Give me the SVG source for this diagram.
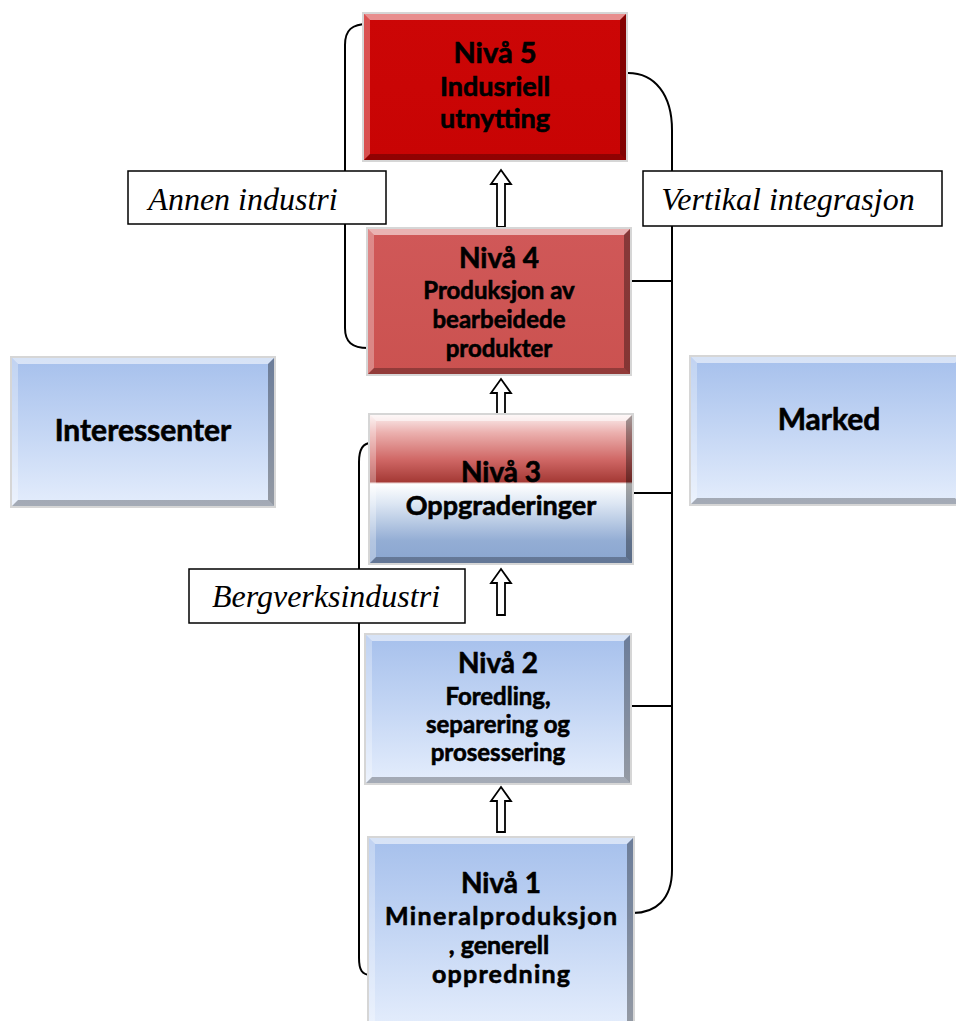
<svg xmlns="http://www.w3.org/2000/svg" width="956" height="1021" viewBox="0 0 956 1021">
  <style>
    .lbl { font-family: Lato, "Open Sans", "Liberation Sans", sans-serif; font-weight: bold; fill: #000; stroke: #000; stroke-width: 0.6; text-anchor: middle; }
    .tag { font-family: "Liberation Serif", "Times New Roman", serif; font-style: italic; font-size: 32px; fill: #000; text-anchor: middle; }
    .tagbox { fill: #fff; stroke: #000; stroke-width: 1.5; }
    .edge { fill: #D6D6D6; }
    .bt { fill: #fff; fill-opacity: 0.55; }
    .bl { fill: #fff; fill-opacity: 0.3; }
    .br { fill: #000; fill-opacity: 0.35; }
    .bb { fill: #000; fill-opacity: 0.28; }
    .conn { fill: none; stroke: #000; stroke-width: 2; }
    .uparrow { fill: #fff; stroke: #000; stroke-width: 1.8; stroke-linejoin: miter; }
  </style>
  <defs>
    <linearGradient id="gBlue" x1="0" y1="0" x2="0" y2="1">
      <stop offset="0" stop-color="#A6C0EC"/>
      <stop offset="0.5" stop-color="#C4D6F4"/>
      <stop offset="1" stop-color="#E4EDFC"/>
    </linearGradient>
    <linearGradient id="gRed5" x1="0" y1="0" x2="0" y2="1">
      <stop offset="0" stop-color="#CC0606"/>
      <stop offset="1" stop-color="#C80404"/>
    </linearGradient>
    <linearGradient id="gRed4" x1="0" y1="0" x2="0" y2="1">
      <stop offset="0" stop-color="#D05858"/>
      <stop offset="1" stop-color="#CB5250"/>
    </linearGradient>
    <linearGradient id="gMix" x1="0" y1="0" x2="0" y2="1">
      <stop offset="0" stop-color="#FBEDED"/>
      <stop offset="0.12" stop-color="#EBB0AE"/>
      <stop offset="0.3" stop-color="#D06866"/>
      <stop offset="0.45" stop-color="#A53A36"/>
      <stop offset="0.465" stop-color="#FFFFFF"/>
      <stop offset="0.6" stop-color="#DCE6F3"/>
      <stop offset="0.85" stop-color="#93ADD4"/>
      <stop offset="1" stop-color="#8AA5D0"/>
    </linearGradient>
  </defs>

  <!-- connectors: brackets and side links -->
  <g id="connectors">
    <path class="conn" d="M368,24 C352,24 345,30 345,45 L345,328 C345,342 352,348 368,348"/>
    <path class="conn" d="M371,443 C362,443 359,450 359,462 L359,958 C359,970 362,975 371,975"/>
    <path class="conn" d="M628,73 C655,73 672,95 672,130 L672,870 C672,900 655,913 633,913"/>
    <path class="conn" d="M630,281 H672"/>
    <path class="conn" d="M632,493 H672"/>
    <path class="conn" d="M630,706 H672"/>
    <!-- hollow upward arrows between levels -->
    <path class="uparrow" d="M497,227 V184 H491 L501,170 L511,184 H505 V227 Z"/>
    <path class="uparrow" d="M497,425 V393 H491 L501,379 L511,393 H505 V425 Z"/>
    <path class="uparrow" d="M497,615 V583 H491 L501,569 L511,583 H505 V615 Z"/>
    <path class="uparrow" d="M497,832 V801 H491 L501,787 L511,801 H505 V832 Z"/>
  </g>

  <!-- Nivå 5 -->
  <g id="niva5">
    <rect class="edge" x="362" y="12" width="266" height="150"/>
    <rect x="364" y="14" width="262" height="146" fill="url(#gRed5)"/>
    <polygon class="bt" points="364,14 626,14 620,20 370,20"/>
    <polygon class="bl" points="364,14 370,20 370,154 364,160"/>
    <polygon class="br" points="626,14 626,160 620,154 620,20"/>
    <polygon class="bb" points="364,160 626,160 620,154 370,154"/>
    <text class="lbl" x="495" y="63" font-size="29">Nivå 5</text>
    <text class="lbl" x="495" y="96" font-size="27">Indusriell</text>
    <text class="lbl" x="495" y="128" font-size="27">utnytting</text>
  </g>

  <!-- Nivå 4 -->
  <g id="niva4">
    <rect class="edge" x="366" y="227" width="266" height="149"/>
    <rect x="368" y="229" width="262" height="145" fill="url(#gRed4)"/>
    <polygon class="bt" points="368,229 630,229 624,235 374,235"/>
    <polygon class="bl" points="368,229 374,235 374,368 368,374"/>
    <polygon class="br" points="630,229 630,374 624,368 624,235"/>
    <polygon class="bb" points="368,374 630,374 624,368 374,368"/>
    <text class="lbl" x="499" y="268" font-size="28">Nivå 4</text>
    <text class="lbl" x="499" y="299" font-size="24">Produksjon av</text>
    <text class="lbl" x="499" y="328" font-size="24">bearbeidede</text>
    <text class="lbl" x="499" y="357" font-size="24">produkter</text>
  </g>

  <!-- Nivå 3 -->
  <g id="niva3">
    <rect class="edge" x="368" y="413" width="266" height="152"/>
    <rect x="370" y="415" width="262" height="148" fill="url(#gMix)"/>
    <polygon class="bt" points="370,415 632,415 626,421 376,421"/>
    <polygon class="bl" points="370,415 376,421 376,557 370,563"/>
    <polygon class="br" points="632,415 632,563 626,557 626,421"/>
    <polygon class="bb" points="370,563 632,563 626,557 376,557"/>
    <text class="lbl" x="501" y="482" font-size="28">Nivå 3</text>
    <text class="lbl" x="501" y="515" font-size="27">Oppgraderinger</text>
  </g>

  <!-- Nivå 2 -->
  <g id="niva2">
    <rect class="edge" x="364" y="633" width="268" height="152"/>
    <rect x="366" y="635" width="264" height="148" fill="url(#gBlue)"/>
    <polygon class="bt" points="366,635 630,635 624,641 372,641"/>
    <polygon class="bl" points="366,635 372,641 372,777 366,783"/>
    <polygon class="br" points="630,635 630,783 624,777 624,641"/>
    <polygon class="bb" points="366,783 630,783 624,777 372,777"/>
    <text class="lbl" x="498" y="673" font-size="28">Nivå 2</text>
    <text class="lbl" x="498" y="705" font-size="24">Foredling,</text>
    <text class="lbl" x="498" y="733" font-size="24">separering og</text>
    <text class="lbl" x="498" y="761" font-size="24">prosessering</text>
  </g>

  <!-- Nivå 1 -->
  <g id="niva1">
    <rect class="edge" x="367" y="836" width="268" height="194"/>
    <rect x="369" y="838" width="264" height="190" fill="url(#gBlue)"/>
    <polygon class="bt" points="369,838 633,838 627,844 375,844"/>
    <polygon class="bl" points="369,838 375,844 375,1028 369,1028"/>
    <polygon class="br" points="633,838 633,1028 627,1028 627,844"/>
    <text class="lbl" x="501" y="893" font-size="28">Nivå 1</text>
    <text class="lbl" x="501" y="925" font-size="25" textLength="232" lengthAdjust="spacing">Mineralproduksjon</text>
    <text class="lbl" x="499" y="954" font-size="25">, generell</text>
    <text class="lbl" x="501" y="983" font-size="25" textLength="138" lengthAdjust="spacing">oppredning</text>
  </g>

  <!-- Interessenter -->
  <g id="interessenter">
    <rect class="edge" x="10" y="356" width="266" height="152"/>
    <rect x="12" y="358" width="262" height="148" fill="url(#gBlue)"/>
    <polygon class="bt" points="12,358 274,358 268,364 18,364"/>
    <polygon class="bl" points="12,358 18,364 18,500 12,506"/>
    <polygon class="br" points="274,358 274,506 268,500 268,364"/>
    <polygon class="bb" points="12,506 274,506 268,500 18,500"/>
    <text class="lbl" x="143" y="441" font-size="30">Interessenter</text>
  </g>

  <!-- Marked -->
  <g id="marked">
    <rect class="edge" x="689" y="355" width="272" height="151"/>
    <rect x="691" y="357" width="270" height="147" fill="url(#gBlue)"/>
    <polygon class="bt" points="691,357 961,357 955,363 697,363"/>
    <polygon class="bl" points="691,357 697,363 697,498 691,504"/>
    <polygon class="bb" points="691,504 961,504 955,498 697,498"/>
    <text class="lbl" x="829" y="430" font-size="30">Marked</text>
  </g>

  <!-- side tags -->
  <g id="tag-annen">
    <rect class="tagbox" x="128" y="171" width="258" height="53"/>
    <text class="tag" x="243" y="210">Annen industri</text>
  </g>
  <g id="tag-vertikal">
    <rect class="tagbox" x="643" y="171" width="299" height="55"/>
    <text class="tag" x="788" y="210">Vertikal integrasjon</text>
  </g>
  <g id="tag-bergverk">
    <rect class="tagbox" x="189" y="569" width="276" height="54"/>
    <text class="tag" x="326" y="607">Bergverksindustri</text>
  </g>
</svg>
